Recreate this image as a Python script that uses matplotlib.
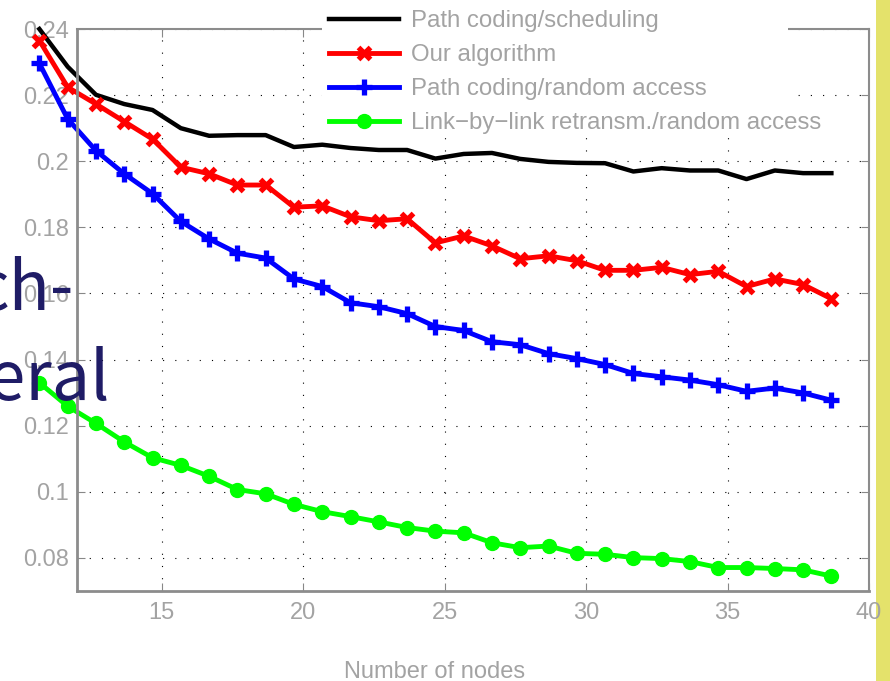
import matplotlib
matplotlib.use("Agg")
import matplotlib.pyplot as plt
from matplotlib.patches import Rectangle

nodes = [10.67, 11.67, 12.67, 13.67, 14.67, 15.67, 16.67, 17.67, 18.67, 19.67,
         20.67, 21.67, 22.67, 23.67, 24.67, 25.67, 26.67, 27.67, 28.67, 29.67,
         30.67, 31.67, 32.67, 33.67, 34.67, 35.67, 36.67, 37.67, 38.67]

sched = [0.2400, 0.2286, 0.2201, 0.2173, 0.2155, 0.2100, 0.2077, 0.2079, 0.2079, 0.2043,
         0.2050, 0.2040, 0.2034, 0.2034, 0.2008, 0.2022, 0.2025, 0.2007, 0.1998, 0.1995,
         0.1994, 0.1969, 0.1979, 0.1972, 0.1972, 0.1946, 0.1972, 0.1964, 0.1964]
ours = [0.2365, 0.2224, 0.2173, 0.2120, 0.2067, 0.1982, 0.1962, 0.1928, 0.1928, 0.1861,
        0.1865, 0.1832, 0.1820, 0.1826, 0.1753, 0.1774, 0.1744, 0.1705, 0.1714, 0.1699,
        0.1670, 0.1670, 0.1679, 0.1657, 0.1667, 0.1621, 0.1644, 0.1627, 0.1584]
random_acc = [0.2296, 0.2128, 0.2032, 0.1962, 0.1902, 0.1818, 0.1765, 0.1722, 0.1707, 0.1644,
              0.1621, 0.1572, 0.1560, 0.1539, 0.1500, 0.1488, 0.1454, 0.1445, 0.1418, 0.1403,
              0.1385, 0.1358, 0.1348, 0.1338, 0.1324, 0.1304, 0.1314, 0.1299, 0.1277]
link_by_link = [0.1330, 0.1259, 0.1207, 0.1151, 0.1103, 0.1080, 0.1047, 0.1007, 0.0994, 0.0962,
                0.0940, 0.0925, 0.0909, 0.0892, 0.0881, 0.0876, 0.0846, 0.0831, 0.0836, 0.0814,
                0.0811, 0.0801, 0.0798, 0.0789, 0.0771, 0.0771, 0.0768, 0.0764, 0.0745]

labels = ["Path coding/scheduling", "Our algorithm",
          "Path coding/random access", "Link\u2212by\u2212link retransm./random access"]
xticks = [15, 20, 25, 30, 35, 40]
yticks = [0.08, 0.1, 0.12, 0.14, 0.16, 0.18, 0.2, 0.22, 0.24]
ytick_labels = ["0.08", "0.1", "0.12", "0.14", "0.16", "0.18", "0.2", "0.22", "0.24"]

W, H = 890, 681
plt.rcParams["font.family"] = ["Liberation Sans", "DejaVu Sans"]
gray = "#a3a3a3"
fig = plt.figure(figsize=(W / 100, H / 100), dpi=100)
ax = fig.add_axes([77 / W, 1 - 591 / H, (869 - 77) / W, (591 - 29) / H])

# yellow strip at the right edge of the slide
fig.patches.append(Rectangle((876 / W, 0), (W - 876) / W, 1, transform=fig.transFigure,
                             facecolor="#e4e26b", edgecolor="none", zorder=-1))

ax.plot(nodes, sched, color="k", lw=3.2, clip_on=False, label=labels[0])
ax.plot(nodes, ours, color="#ff0000", lw=3.5, marker="x", ms=9, mew=3.8,
        clip_on=False, label=labels[1])
ax.plot(nodes, random_acc, color="#0000ff", lw=3.5, marker="+", ms=11, mew=3.8,
        clip_on=False, label=labels[2])
ax.plot(nodes, link_by_link, color="#00ff00", lw=3.5, marker="o", ms=10,
        clip_on=False, label=labels[3])

ax.set_xlim(12, 40)
ax.set_ylim(0.07, 0.24)
ax.set_xticks(xticks)
ax.set_yticks(yticks)
ax.set_yticklabels(ytick_labels)
ax.grid(True, color="k", lw=0.8, ls=(0, (1, 10)))
ax.tick_params(direction="in", length=6, color="#888888", labelcolor=gray,
               labelsize=17, top=True, right=True)
ax.tick_params(axis="x", pad=8)
ax.tick_params(axis="y", pad=6)
for s in ax.spines.values():
    s.set_color("#8c8c8c")
    s.set_linewidth(1.5)
ax.spines["left"].set_linewidth(2)
ax.spines["bottom"].set_linewidth(2)

# white box behind the legend (hides the top frame there)
ax.add_patch(Rectangle((322 / W, 1 - 138 / H), (788 - 322) / W, 138 / H,
                       transform=fig.transFigure, facecolor="white", edgecolor="none",
                       clip_on=False, zorder=4))
leg = ax.legend(loc="upper left", bbox_to_anchor=(329 / W, 1 - 10 / H),
                bbox_transform=fig.transFigure, frameon=False, fontsize=17.3,
                handlelength=2.9, handletextpad=0.5, labelspacing=0.5,
                borderpad=0, borderaxespad=0)
leg.set_zorder(5)
for t in leg.get_texts():
    t.set_color(gray)

fig.text(435 / W, 1 - 678 / H, "Number of nodes", color=gray, fontsize=17,
         ha="center", va="baseline")

# fragments of slide text overlapping the figure
navy = "#1f1c66"
overlay_font = ["Noto Sans CJK JP", "DejaVu Sans"]
fig.text(74 / W, 1 - 310 / H, "ch-", color=navy, fontsize=49, family=overlay_font,
         ha="right", va="baseline", zorder=10)
fig.text(110 / W, 1 - 400 / H, "neral", color=navy, fontsize=49, family=overlay_font,
         ha="right", va="baseline", zorder=10)

fig.savefig("out.png", dpi=100)
